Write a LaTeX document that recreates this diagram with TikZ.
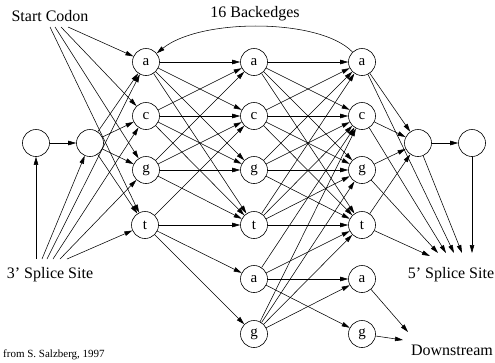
\documentclass[tikz,border=0pt]{standalone}
\usepackage{fontspec}
\setmainfont{Liberation Serif}
\usetikzlibrary{arrows.meta}
\begin{document}
\begin{tikzpicture}[x=1pt,y=-1pt,
  st/.style={circle,draw,line width=0.6pt,minimum size=27pt,inner sep=0pt,font=\fontsize{15}{15}\selectfont},
  arr/.style={-{Triangle[length=8pt,width=4.5pt]},line width=0.55pt},
  lbl/.style={font=\fontsize{16}{16}\selectfont,inner sep=0pt},
  small/.style={font=\fontsize{11}{11}\selectfont,inner sep=0pt}]
\useasboundingbox (0,0) rectangle (495,362);
% labels
\node[lbl] (start) at (50,16) {Start Codon};
\node[lbl] (back) at (255,14) {16 Backedges};
\node[lbl] (ss3) at (50,275) {3' Splice Site};
\node[lbl] (ss5) at (451,275) {5' Splice Site};
\node[lbl] (down) at (452,350) {Downstream};
\node[small,anchor=west] (src) at (3,355) {from S. Salzberg, 1997};
% states
\node[st] (n0) at (36,143) {};
\node[st] (n1) at (90,143) {};
\node[st] (a2) at (146,62) {a};
\node[st] (c2) at (146,116) {c};
\node[st] (g2) at (146,170) {g};
\node[st] (t2) at (145,225) {t};
\node[st] (a3) at (254,62) {a};
\node[st] (c3) at (254,116) {c};
\node[st] (g3) at (254,170) {g};
\node[st] (t3) at (254,225) {t};
\node[st] (la3) at (254,279) {a};
\node[st] (lg3) at (254,334) {g};
\node[st] (a4) at (362,62) {a};
\node[st] (c4) at (362,116) {c};
\node[st] (g4) at (362,170) {g};
\node[st] (t4) at (362,225) {t};
\node[st] (la4) at (362,279) {a};
\node[st] (lg4) at (362,334) {g};
\node[st] (n5) at (418,143) {};
\node[st] (n6) at (472,143) {};
% free ends
\coordinate (sc1) at (50,27);
\coordinate (sc2) at (55,27);
\coordinate (sc3) at (61,27);
\coordinate (sc4) at (68,27);
\coordinate (sp0) at (36,259);
\coordinate (sp1) at (42,259);
\coordinate (sp2) at (47,259);
\coordinate (sp3) at (53,259);
\coordinate (sp4) at (60,259);
\coordinate (sp5) at (67,259);
\coordinate (e1) at (430,256);
\coordinate (e2) at (438,253);
\coordinate (e3) at (446,253);
\coordinate (e4) at (454,253);
\coordinate (e5) at (462,253);
\coordinate (e6) at (472,253);
\coordinate (d1) at (408,332);
\coordinate (d2) at (403,340);
% start codon
\draw[arr] (sc4) -- (a2);
\draw[arr] (sc3) -- (c2);
\draw[arr] (sc2) -- (g2);
\draw[arr] (sc1) -- (t2);
% 3' splice site
\draw[arr] (sp0) -- (n0);
\draw[arr] (sp1) -- (n1);
\draw[arr] (sp2) -- (a2);
\draw[arr] (sp3) -- (c2);
\draw[arr] (sp4) -- (g2);
\draw[arr] (sp5) -- (t2);
\draw[arr] (n0) -- (n1);
\foreach \y in {a2,c2,g2,t2} \draw[arr] (n1) -- (\y);
% column 2 -> 3
\foreach \x in {a2,c2,g2} \foreach \y in {a3,c3,g3,t3} \draw[arr] (\x) -- (\y);
\foreach \y in {c3,t3,la3,lg3} \draw[arr] (t2) -- (\y);
% column 3 -> 4
\foreach \x in {a3,c3,g3,t3} \foreach \y in {a4,c4,g4,t4} \draw[arr] (\x) -- (\y);
\foreach \y in {c4,t4,la4,lg4} \draw[arr] (la3) -- (\y);
\foreach \y in {c4,g4,t4,la4} \draw[arr] (lg3) -- (\y);
% backedges
\draw[arr] (a4) .. controls (320,18) and (200,18) .. (a2);
% exits
\foreach \x in {a4,c4,g4,t4} \draw[arr] (\x) -- (n5);
\draw[arr] (n5) -- (n6);
\draw[arr] (t4) -- (e1);
\draw[arr] (g4) -- (e2);
\draw[arr] (c4) -- (e3);
\draw[arr] (a4) -- (e4);
\draw[arr] (n5) -- (e5);
\draw[arr] (n6) -- (e6);
\draw[arr] (la4) -- (d1);
\draw[arr] (lg4) -- (d2);
\end{tikzpicture}
\end{document}
